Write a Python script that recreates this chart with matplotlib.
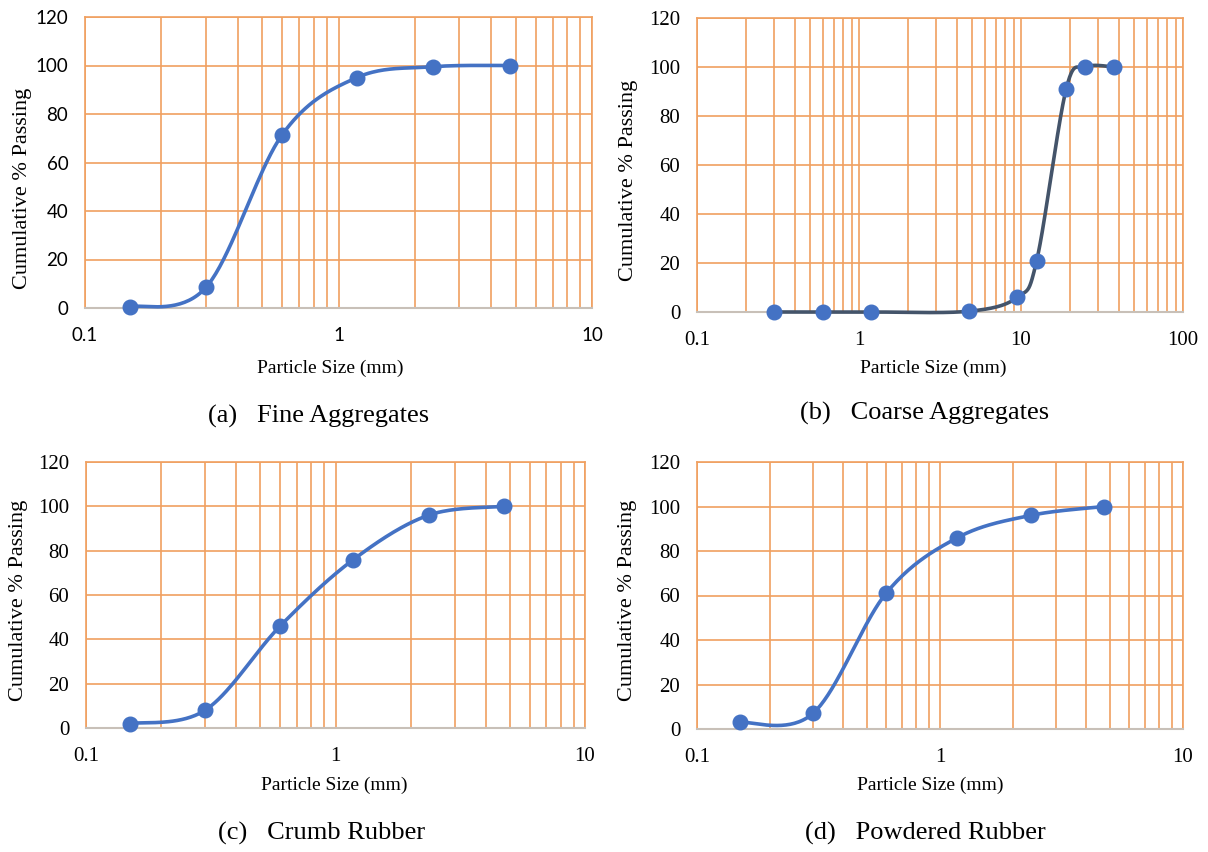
import numpy as np
import matplotlib
matplotlib.use("Agg")
import matplotlib.pyplot as plt
from matplotlib.ticker import LogLocator, FixedLocator, NullFormatter, FuncFormatter

# sieve sizes (mm) and cumulative % passing
fine_size = [0.15, 0.3, 0.6, 1.18, 2.36, 4.75]
fine_pass = [0.5, 8.5, 71.5, 95, 99.5, 100]

coarse_size = [0.3, 0.6, 1.18, 4.75, 9.5, 12.5, 19, 25, 37.5]
coarse_pass = [0, 0, 0, 0.3, 6, 21, 91, 100, 100]

crumb_size = [0.15, 0.3, 0.6, 1.18, 2.36, 4.75]
crumb_pass = [2, 8, 46, 76, 96, 100]

powder_size = [0.15, 0.3, 0.6, 1.18, 2.36, 4.75]
powder_pass = [3, 7, 61, 86, 96, 100]

captions = ["(a)   Fine Aggregates", "(b)   Coarse Aggregates",
            "(c)   Crumb Rubber", "(d)   Powdered Rubber"]

GRID = "#F0A060"
BLUE = "#4472C4"
SERIF = "Liberation Serif"

W, H = 1208, 852


def smooth(xs, ys, n=40):
    # excel-like smoothed line: bezier through points, done in log-x space
    u = np.log10(xs)
    v = np.array(ys, dtype=float)
    pts = np.column_stack([u, v])
    out = []
    for i in range(len(pts) - 1):
        p0 = pts[i - 1] if i > 0 else pts[i]
        p1 = pts[i]
        p2 = pts[i + 1]
        p3 = pts[i + 2] if i + 2 < len(pts) else pts[i + 1]
        c1 = p1 + (p2 - p0) / 6
        c2 = p2 - (p3 - p1) / 6
        t = np.linspace(0, 1, n)[:, None]
        seg = ((1 - t) ** 3) * p1 + 3 * ((1 - t) ** 2) * t * c1 + 3 * (1 - t) * t ** 2 * c2 + t ** 3 * p2
        out.append(seg)
    seg = np.vstack(out)
    return 10 ** seg[:, 0], seg[:, 1]


def panel(fig, box, xs, ys, xmax, line_color, tick_font, tick_size, ylab_pos, xlab_pos):
    l, t, r, b = box
    ax = fig.add_axes([l / W, 1 - b / H, (r - l) / W, (b - t) / H])
    ax.set_xscale("log")
    ax.set_xlim(0.1, xmax)
    ax.set_ylim(0, 120)
    ax.yaxis.set_major_locator(FixedLocator([0, 20, 40, 60, 80, 100, 120]))
    ax.xaxis.set_major_locator(LogLocator(base=10))
    ax.xaxis.set_minor_locator(LogLocator(base=10, subs=np.arange(2, 10)))
    ax.xaxis.set_minor_formatter(NullFormatter())
    ax.xaxis.set_major_formatter(FuncFormatter(lambda v, p: "%g" % v))
    ax.grid(True, which="both", axis="x", color=GRID, lw=1.2)
    ax.grid(True, which="major", axis="y", color=GRID, lw=1.2)
    ax.tick_params(which="both", length=0)
    ax.tick_params(axis="y", pad=12)
    ax.tick_params(axis="x", pad=14)
    for s in ["left", "right", "top"]:
        ax.spines[s].set_color(GRID)
        ax.spines[s].set_linewidth(1.2)
    ax.spines["bottom"].set_color("#C8C0B8")
    ax.spines["bottom"].set_linewidth(1.5)
    for lab in ax.get_xticklabels() + ax.get_yticklabels():
        lab.set_fontfamily(tick_font)
        lab.set_fontsize(tick_size)
    sx, sy = smooth(xs, ys)
    ax.plot(sx, sy, color=line_color, lw=2.6, zorder=3, clip_on=False)
    ax.plot(xs, ys, "o", color=BLUE, ms=10.5, zorder=4, clip_on=False)
    ax.set_xlabel("Particle Size (mm)", fontfamily=SERIF, fontsize=14, va="center")
    ax.set_ylabel("Cumulative % Passing", fontfamily=SERIF, fontsize=16, va="center")
    ax.xaxis.set_label_coords(*xlab_pos)
    ax.yaxis.set_label_coords(*ylab_pos)
    return ax


fig = plt.figure(figsize=(W / 100, H / 100), dpi=100)

panel(fig, (85, 17, 592, 308), fine_size, fine_pass, 10, BLUE, "Lato", 13.5,
      (-0.124, 0.41), (0.483, -0.206))
panel(fig, (697, 18, 1183, 312), coarse_size, coarse_pass, 100, "#44546A", SERIF, 15,
      (-0.14, 0.449), (0.486, -0.19))
panel(fig, (86, 462, 585, 728), crumb_size, crumb_pass, 10, BLUE, SERIF, 15,
      (-0.136, 0.481), (0.497, -0.214))
panel(fig, (697, 462, 1183, 729), powder_size, powder_pass, 10, BLUE, SERIF, 15,
      (-0.142, 0.483), (0.479, -0.21))

fig.text(319 / W, 1 - 416 / H, captions[0], ha="center", va="center", fontfamily=SERIF, fontsize=19)
fig.text(925 / W, 1 - 413 / H, captions[1], ha="center", va="center", fontfamily=SERIF, fontsize=19)
fig.text(322 / W, 1 - 833 / H, captions[2], ha="center", va="center", fontfamily=SERIF, fontsize=19)
fig.text(925 / W, 1 - 833 / H, captions[3], ha="center", va="center", fontfamily=SERIF, fontsize=19)

fig.savefig("out.png", dpi=100)
